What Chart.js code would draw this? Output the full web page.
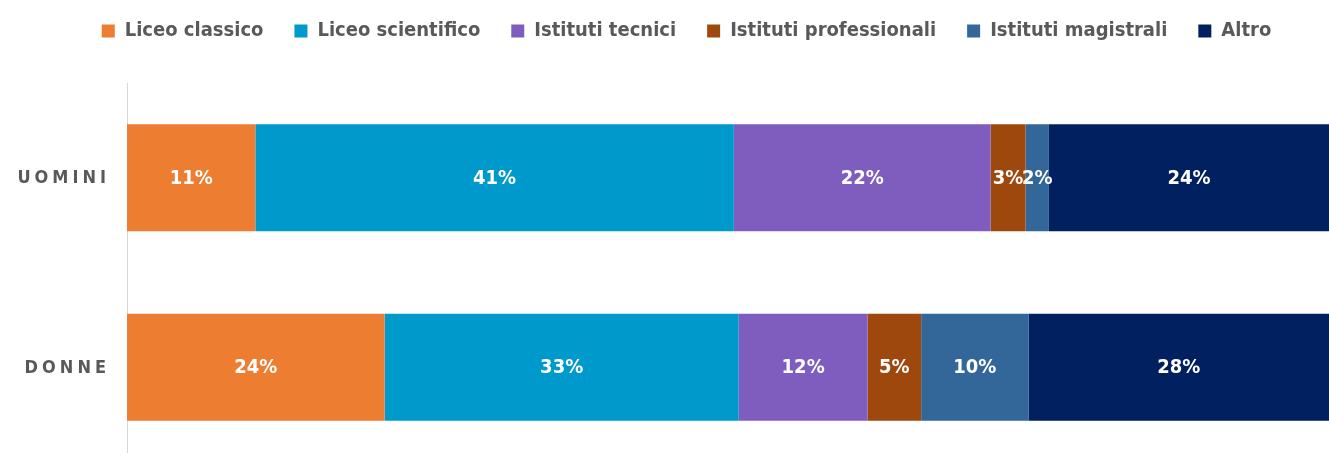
<!DOCTYPE html>
<html>
<head>
<meta charset="utf-8">
<script src="https://cdn.jsdelivr.net/npm/chart.js@4.4.1/dist/chart.umd.min.js"></script>
<style>
    html, body { margin: 0; padding: 0; background: #fff; overflow: hidden; }
    #wrap { position: absolute; left: 0; top: -10px; width: 1329px; height: 472px; }
</style>
</head>
<body>
<div id="wrap"><canvas id="chart"></canvas></div>
<script>

const categories = ["UOMINI", "DONNE"];

const liceoClassico = [11, 24];
const liceoScientifico = [41, 33];
const istitutiTecnici = [22, 12];
const istitutiProfessionali = [3, 5];
const istitutiMagistrali = [2, 10];
const altro = [24, 28];

const seriesNames = ["Liceo classico", "Liceo scientifico", "Istituti tecnici", "Istituti professionali", "Istituti magistrali", "Altro"];
const seriesValues = [liceoClassico, liceoScientifico, istitutiTecnici, istitutiProfessionali, istitutiMagistrali, altro];
const seriesColors = ["#ED7D31", "#0099CC", "#7F5DBE", "#9E480E", "#336699", "#002060"];

const FONT = "'DejaVu Sans Condensed', 'DejaVu Sans', sans-serif";

// 100% stacked: each row is shown as share of its own total
const totals = categories.map((c, i) => seriesValues.reduce((s, arr) => s + arr[i], 0));

const datasets = seriesNames.map((name, k) => ({
    label: name,
    data: seriesValues[k].map((v, i) => v / totals[i] * 100),
    raw: seriesValues[k],
    backgroundColor: seriesColors[k],
    borderWidth: 0,
    barPercentage: 0.565,
    categoryPercentage: 1
}));

// white % labels inside the bars
const barLabels = {
    id: "barLabels",
    afterDatasetsDraw(chart) {
        const ctx = chart.ctx;
        ctx.save();
        ctx.font = "bold 20px " + FONT;
        ctx.fillStyle = "#ffffff";
        ctx.textAlign = "center";
        ctx.textBaseline = "middle";
        chart.data.datasets.forEach((ds, k) => {
            chart.getDatasetMeta(k).data.forEach((bar, i) => {
                const x = (bar.x + bar.base) / 2;
                ctx.fillText(ds.raw[i] + "%", x, bar.y + 1);
            });
        });
        ctx.restore();
    }
};

// category names with letter spacing
const catLabels = {
    id: "catLabels",
    afterDraw(chart) {
        const ctx = chart.ctx;
        const y = chart.scales.y;
        const spacing = 4;
        ctx.save();
        ctx.font = "bold 18px " + FONT;
        ctx.fillStyle = "#595959";
        ctx.textAlign = "left";
        ctx.textBaseline = "middle";
        categories.forEach((label, i) => {
            const chars = label.split("");
            const widths = chars.map(ch => ctx.measureText(ch).width);
            const total = widths.reduce((a, b) => a + b, 0) + spacing * (chars.length - 1);
            let x = chart.chartArea.left - 21 - total;
            const py = y.getPixelForTick(i) + 1;
            chars.forEach((ch, j) => {
                ctx.fillText(ch, x, py);
                x += widths[j] + spacing;
            });
        });
        ctx.restore();
    }
};

new Chart(document.getElementById("chart"), {
    type: "bar",
    data: {
        labels: categories,
        datasets
    },
    options: {
        indexAxis: "y",
        responsive: true,
        maintainAspectRatio: false,
        animation: false,
        layout: {
            padding: { left: 44, right: 0, top: 0, bottom: 0 }
        },
        scales: {
            x: {
                position: "top",
                stacked: true,
                min: 0,
                max: 100,
                grid: { display: false },
                border: { display: false },
                ticks: { display: false },
                afterFit: (s) => { s.height = 32; }
            },
            y: {
                stacked: true,
                grid: { display: false },
                border: { display: true, color: "#D9D9D9", width: 1 },
                ticks: { display: false },
                afterFit: (s) => { s.width = 83; }
            }
        },
        plugins: {
            legend: {
                position: "top",
                align: "center",
                labels: {
                    boxWidth: 13,
                    boxHeight: 13,
                    padding: 31,
                    color: "#595959",
                    font: { family: FONT, size: 20, weight: "bold" }
                }
            },
            tooltip: { enabled: false }
        }
    },
    plugins: [barLabels, catLabels]
});

</script>
</body>
</html>
